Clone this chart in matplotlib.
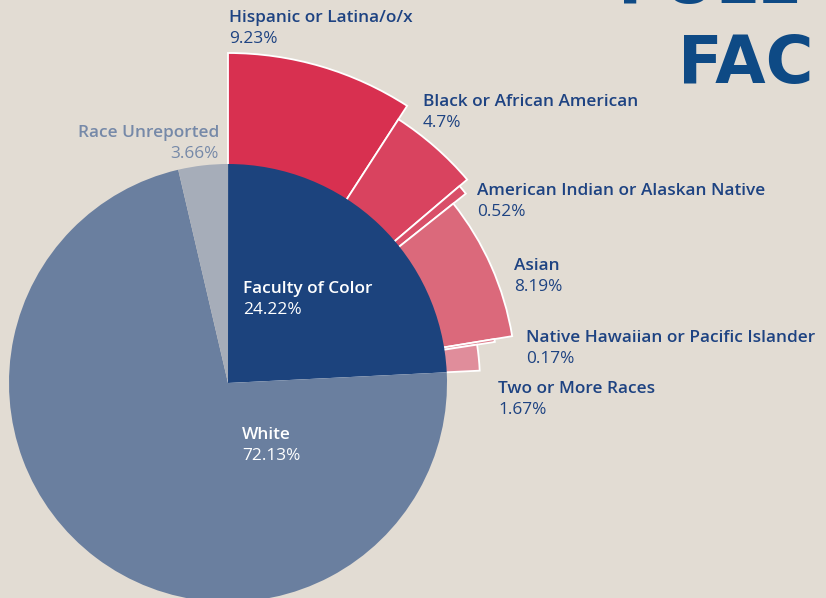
import matplotlib.pyplot as plt
from matplotlib.patches import Wedge
import numpy as np

# main split (percent)
main_labels = ['Faculty of Color', 'White', 'Race Unreported']
main_vals = [24.22, 72.13, 3.66]
main_cols = ['#1C437D', '#6A7F9F', '#A6ADB9']

# faculty of color breakdown (percent) and outer radius in px
sub_labels = ['Hispanic or Latina/o/x', 'Black or African American',
              'American Indian or Alaskan Native', 'Asian',
              'Native Hawaiian or Pacific Islander', 'Two or More Races']
sub_vals = [9.23, 4.7, 0.52, 8.19, 0.17, 1.67]
sub_radius = [330, 314, 304, 288, 270, 252]
sub_cols = ['#D83050', '#D9435F', '#D94F68', '#DB697B', '#DD7888', '#E08D9B']

bg = '#E2DCD3'
navy = '#1E4382'
W, H = 826, 598
cx, cy, R = 228, H - 383, 219

fig = plt.figure(figsize=(8.26, 5.98), dpi=100, facecolor=bg)
ax = fig.add_axes([0, 0, 1, 1])
ax.set_xlim(0, W)
ax.set_ylim(0, H)
ax.set_aspect('equal')
ax.axis('off')
ax.set_facecolor(bg)

# outer ring, scaled so it spans exactly the faculty-of-color wedge
scale = main_vals[0] / sum(sub_vals)
start = 90
for v, r, c in zip(sub_vals, sub_radius, sub_cols):
    span = v * scale * 3.6
    ax.add_patch(Wedge((cx, cy), r, start - span, start, facecolor=c,
                       edgecolor='white', linewidth=1.3, zorder=1))
    start -= span

# main pie on top
start = 90
for v, c in zip(main_vals, main_cols):
    span = v * 3.6
    ax.add_patch(Wedge((cx, cy), R, start - span, start, facecolor=c,
                       edgecolor='none', zorder=2))
    start -= span

fam = ['Open Sans', 'DejaVu Sans']
fs = 12.4

def label(x, y, name, pct, color=navy, ha='left'):
    ax.text(x, H - y, name, fontsize=fs, color=color, family=fam,
            fontweight='semibold', ha=ha, va='baseline', zorder=5)
    ax.text(x, H - y - 21, pct, fontsize=fs, color=color, family=fam,
            ha=ha, va='baseline', zorder=5)

sub_pos = [(229, 22), (423, 106), (477, 195), (514, 270), (526, 342), (498, 393)]
for (x, y), name, v in zip(sub_pos, sub_labels, sub_vals):
    label(x, y, name, f'{v}%')

label(243, 293, main_labels[0], f'{main_vals[0]}%', color='white')
label(242, 439, main_labels[1], f'{main_vals[1]}%', color='white')
label(219, 137, main_labels[2], f'{main_vals[2]}%', color='#7689A8', ha='right')

# cropped page title
ax.text(618, H - 3, 'FULL', fontsize=47, color='#0E4A85', family='DejaVu Sans',
        fontweight='bold', ha='left', va='baseline', zorder=5)
ax.text(678, H - 83, 'FAC', fontsize=47, color='#0E4A85', family='DejaVu Sans',
        fontweight='bold', ha='left', va='baseline', zorder=5)

fig.savefig('out.png', dpi=100, facecolor=bg)
